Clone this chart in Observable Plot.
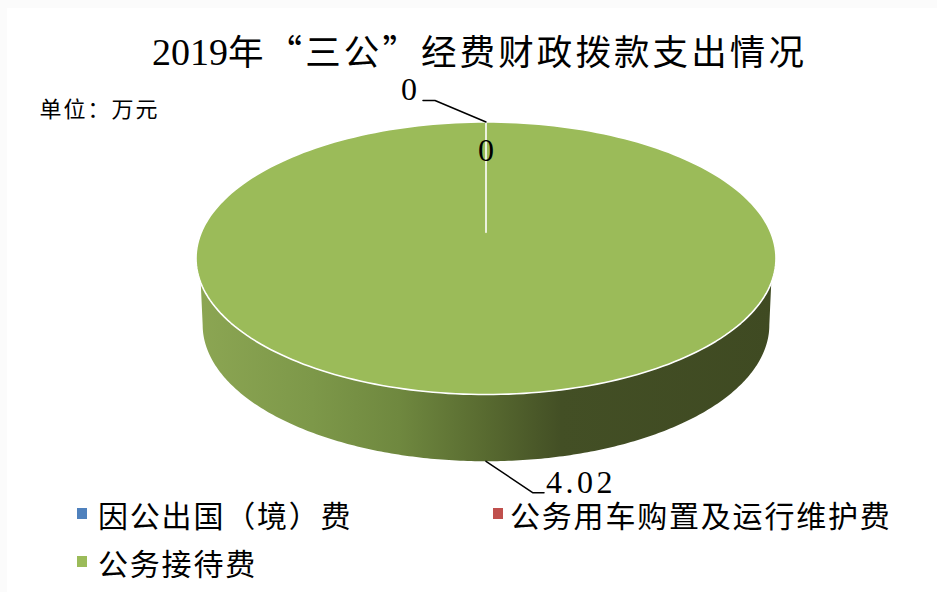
<!DOCTYPE html>
<html lang="zh-CN">
<head>
<meta charset="utf-8">
<script src="https://cdn.jsdelivr.net/npm/d3@7"></script>
<script src="https://cdn.jsdelivr.net/npm/@observablehq/plot@0.6"></script>
<style>
  html, body { margin: 0; padding: 0; background: #fbfbfb; }
  #page { position: relative; width: 930px; height: 584px; margin: 8px 0 0 7px; background: #fff; overflow: hidden;
          font-family: "Noto Sans CJK SC", sans-serif; color: #000; }
  #title { height: 70px; box-sizing: border-box; padding: 22px 0 0 145px; font-size: 35.5px; line-height: 40px; letter-spacing: 3.1px; white-space: nowrap; }
  #title span { font-family: "Liberation Serif", serif; font-size: 38px; letter-spacing: 0; }
  #chart svg { display: block; }
  #legend { position: absolute; left: 0; top: 0; width: 100%; height: 100%; pointer-events: none; }
  .item { position: absolute; font-size: 30px; line-height: 32px; letter-spacing: 1.8px; white-space: nowrap; }
  .item i { position: absolute; top: 10px; width: 10px; height: 11px; }
</style>
</head>
<body>
<div id="page">
  <div id="title"></div>
  <div id="chart"></div>
  <div id="legend"></div>
</div>
<script>
const titleText = "2019年“三公”经费财政拨款支出情况";
const unitText = "单位：万元";
const categories = ["因公出国（境）费", "公务用车购置及运行维护费", "公务接待费"];
const values = [0, 0, 4.02];
const colors = ["#4f81bd", "#c0504d", "#9bbb59"];
const valueLabels = ["0", "0", "4.02"];

// Title, with the Latin digits in a serif face
document.getElementById("title").innerHTML = titleText.replace(/\d+/, d => `<span>${d}</span>`);

// Pie layout: clockwise from 12 o'clock, in units of the pie radius
const arcs = d3.pie().sort(null).startAngle(0).endAngle(2 * Math.PI)(values);
const apexY = 0.19, depth = 0.49, baseRx = 0.977, STEPS = 240;
const rim = a => ({x: Math.sin(a), y: Math.cos(a)});
const ticks = (a0, a1, n) => d3.range(n + 1).map(i => a0 + (a1 - a0) * i / n);

const slicePolys = arcs.filter(d => d.endAngle > d.startAngle).map(d => ({
  fill: colors[d.index],
  points: [{x: 0, y: apexY}, ...ticks(d.startAngle, d.endAngle, STEPS).map(rim)]
}));

// Side wall: front half of the rim, then back along the lower ellipse
const wallTop = ticks(Math.PI * 0.456, Math.PI * 1.544, STEPS).map(rim);
const wallBase = ticks(Math.PI * 1.5, Math.PI * 0.5, STEPS).map(a => ({x: baseRx * Math.sin(a), y: Math.cos(a) - depth}));
const wall = [...wallTop, ...wallBase];

// Data labels and leaders, anchored on each slice's mid angle
const mid = arcs.map(d => (d.startAngle + d.endAngle) / 2);
const anchors = [
  {i: 0, y: rim(mid[0]).y},
  {i: 1, y: rim(mid[1]).y},
  {i: 2, y: rim(mid[2]).y - depth}
];
const UX = 290, UY = 136;
const labelOffset = [[-77, -32], [0, 29], [95, 21]];
const leaderOffset = [[[-51, -21.5], [-63, -21.5]], null, [[47, 31.5], [58, 31.5]]];

const spaced = (ls) => (index, scales, channels, dims, ctx, next) => {
  const g = next(index, scales, channels, dims, ctx);
  g.setAttribute("letter-spacing", ls);
  return g;
};

const textStyle = {fontFamily: "Liberation Serif, serif", fontSize: 32, fill: "#000"};
const labelMark = (rows, ls) => Plot.text(rows, {
  x: a => Math.sin(mid[a.i]) + labelOffset[a.i][0] / UX,
  y: a => a.y - labelOffset[a.i][1] / UY,
  text: a => valueLabels[a.i],
  ...textStyle,
  render: spaced(ls)
});

const chart = Plot.plot({
  width: 930,
  height: 428,
  margin: 0,
  style: {background: "transparent", overflow: "visible"},
  x: {domain: [-1, 1], range: [188.5, 768.5], axis: null},
  y: {domain: [1, -1], range: [43.5, 316], axis: null},
  marks: [
    () => {
      const defs = d3.create("svg:defs");
      const g = defs.append("linearGradient").attr("id", "wallShade");
      [[0, "#8ca653"], [0.2, "#7d9849"], [0.35, "#6f883f"], [0.5, "#586a30"], [0.63, "#434f25"], [1, "#3f4a22"]]
        .forEach(([o, c]) => g.append("stop").attr("offset", o).attr("stop-color", c));
      return defs.node();
    },
    Plot.line(wall, {x: "x", y: "y", fill: "url(#wallShade)", stroke: "none", curve: "linear-closed"}),
    ...slicePolys.map(s => Plot.line(s.points, {x: "x", y: "y", fill: s.fill, stroke: "#fff", strokeWidth: 1.6, curve: "linear-closed"})),
    // Leaders: from the anchor on the pie, out to the label
    Plot.line(anchors.filter(a => leaderOffset[a.i]).flatMap(a => [[0, 0], ...leaderOffset[a.i]].map(o => ({
      i: a.i, x: Math.sin(mid[a.i]) + o[0] / UX, y: a.y - o[1] / UY
    }))), {x: "x", y: "y", z: "i", stroke: "#000", strokeWidth: 1.5}),
    labelMark(anchors.filter(a => a.i < 2), 0),
    labelMark(anchors.filter(a => a.i === 2), 3.5),
    Plot.text([unitText], {
      frameAnchor: "top-left", dx: 32, dy: 31, text: d => d,
      fontFamily: "Noto Sans CJK SC, sans-serif", fontSize: 22, fill: "#000", lineAnchor: "middle", textAnchor: "start",
      render: spaced(2)
    })
  ]
});
document.getElementById("chart").appendChild(chart);

// Legend
const legendPos = [[91, 490, -21], [503, 490, -17], [91, 538, -21]];
document.getElementById("legend").innerHTML = categories.map((c, i) =>
  `<div class="item" style="left:${legendPos[i][0]}px;top:${legendPos[i][1]}px"><i style="left:${legendPos[i][2]}px;background:${colors[i]}"></i>${c}</div>`
).join("");
</script>
</body>
</html>
